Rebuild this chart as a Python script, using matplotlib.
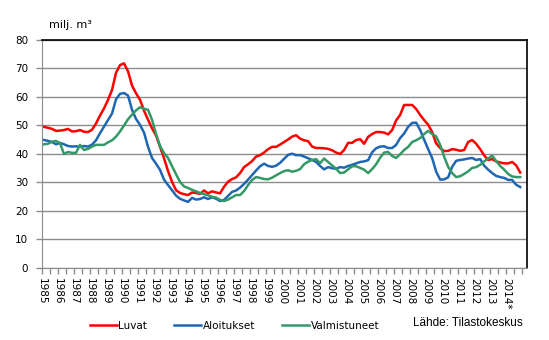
import matplotlib
matplotlib.use("Agg")
import matplotlib.pyplot as plt
import numpy as np

# quarterly values 1985Q1 .. 2014Q4, milj. m3
luvat = [49.5, 49.2, 48.8, 48.1, 48.2, 48.4, 48.8, 47.9, 48.0, 48.4,
         47.8, 47.7, 48.5, 50.7, 53.5, 56.0, 59.0, 62.5, 68.5, 71.2,
         71.8, 69.0, 64.0, 61.3, 59.0, 55.2, 52.0, 49.0, 46.5, 42.5,
         38.5, 34.0, 30.2, 27.3, 26.3, 25.9, 25.6, 26.5, 26.3, 26.0,
         27.2, 26.2, 26.9, 26.5, 26.2, 28.5, 30.3, 31.2, 31.8, 33.3,
         35.4, 36.4, 37.5, 39.1, 39.6, 40.5, 41.7, 42.5, 42.5, 43.3,
         44.2, 45.1, 46.1, 46.6, 45.4, 44.8, 44.5, 42.6, 42.1, 42.1,
         42.0, 41.8, 41.3, 40.5, 40.0, 41.4, 43.9, 43.9, 44.9, 45.2,
         43.6, 46.0, 47.0, 47.7, 47.7, 47.5, 46.9, 48.4, 51.8, 53.7,
         57.2, 57.2, 57.2, 55.8, 53.7, 51.9, 50.3, 47.7, 43.7, 42.1,
         41.0, 41.1, 41.7, 41.5, 41.1, 41.4, 44.2, 44.9, 43.6, 41.7,
         39.5, 37.9, 38.2, 37.4, 37.0, 36.7, 36.7, 37.2, 36.0, 33.5]

aloitukset = [44.9, 44.6, 44.2, 43.4, 43.9, 43.4, 42.8, 42.6, 42.7, 42.5,
              42.8, 42.6, 43.3, 44.8, 47.3, 49.6, 51.9, 54.2, 59.2, 61.1,
              61.4, 60.5, 55.5, 52.3, 50.2, 47.5, 42.5, 38.6, 36.6, 34.4,
              31.0, 29.1, 27.3, 25.4, 24.3, 23.7, 23.2, 24.6, 24.0, 24.2,
              24.8, 24.2, 24.8, 24.3, 23.5, 23.9, 25.3, 26.7, 27.2, 28.2,
              29.5, 31.0, 32.6, 34.2, 35.7, 36.6, 35.8, 35.5, 35.9, 36.9,
              38.3, 39.7, 40.1, 39.6, 39.6, 39.1, 38.5, 37.9, 37.2, 35.8,
              34.6, 35.4, 35.0, 34.8, 35.4, 35.2, 35.8, 36.2, 36.7, 37.2,
              37.4, 37.8, 40.6, 42.0, 42.6, 42.7, 42.1, 42.1, 43.2, 45.6,
              47.2, 49.5, 50.9, 51.0, 48.4, 45.0, 41.7, 38.6, 33.8, 31.0,
              31.1, 31.8, 35.5, 37.6, 37.9, 38.1, 38.4, 38.6, 37.9, 38.2,
              35.9, 34.5, 33.3, 32.3, 31.9, 31.6, 30.9, 30.9, 29.2, 28.4]

valmistuneet = [43.4, 43.6, 44.3, 44.6, 43.8, 40.0, 40.7, 40.4, 40.4, 43.2,
                41.4, 41.8, 42.6, 43.2, 43.2, 43.2, 44.1, 44.8, 46.1, 47.9,
                50.0, 52.2, 53.8, 55.3, 56.4, 55.9, 55.5, 52.0, 47.0, 42.8,
                40.3, 38.6, 35.7, 32.9, 30.2, 28.6, 28.1, 27.4, 26.9, 26.3,
                25.9, 25.5, 25.0, 24.7, 23.9, 23.5, 24.0, 24.8, 25.6, 25.6,
                27.0, 29.1, 30.9, 31.9, 31.6, 31.2, 31.1, 31.7, 32.5, 33.3,
                34.0, 34.3, 33.8, 34.1, 34.7, 36.4, 37.3, 37.9, 38.2, 36.8,
                38.4, 37.2, 36.0, 34.8, 33.3, 33.5, 34.6, 35.7, 35.7, 35.1,
                34.5, 33.3, 34.7, 36.4, 38.7, 40.5, 40.7, 39.3, 38.6, 39.9,
                41.4, 42.5, 44.2, 44.8, 45.6, 47.0, 48.1, 47.0, 46.2, 43.2,
                39.0, 35.5, 33.3, 31.9, 32.2, 33.0, 33.9, 35.1, 35.4, 36.2,
                37.4, 38.4, 39.4, 37.5, 35.8, 34.5, 33.0, 32.1, 31.9, 31.9]

years = list(range(1985, 2015))
year_labels = [str(y) for y in years[:-1]] + ["2014*"]

x = 1985.125 + np.arange(len(luvat)) / 4.0

fig = plt.figure(figsize=(5.49, 3.4), dpi=100)
ax = fig.add_axes([0.0765, 0.2118, 0.8834, 0.6706])

ax.plot(x, luvat, color="#ff0000", lw=1.8, label="Luvat")
ax.plot(x, aloitukset, color="#1f66b3", lw=1.8, label="Aloitukset")
ax.plot(x, valmistuneet, color="#339966", lw=1.8, label="Valmistuneet")

ax.set_ylim(0, 80)
ax.set_xlim(1985, 2015.3)
ax.set_yticks(range(0, 81, 10))
ax.yaxis.grid(True, color="#8c8c8c", lw=1)
ax.set_axisbelow(True)

halfyears = np.arange(1985, 2015.01, 0.5)
ax.set_xticks(halfyears)
ax.set_xticklabels([""] * len(halfyears))
for yr, lab in zip(years, year_labels):
    ax.text(yr, -3.5, lab, rotation=270, ha="center", va="top", fontsize=7.5,
            family="DejaVu Sans")

ax.tick_params(axis="x", length=4, color="#8c8c8c", width=1)
ax.tick_params(axis="y", length=4, color="#8c8c8c", width=1, labelsize=7.5, pad=6)

for s in ("left", "bottom"):
    ax.spines[s].set_color("#8c8c8c")
for s in ("top", "right"):
    ax.spines[s].set_color("black")
    ax.spines[s].set_linewidth(1.2)

fig.text(0.09, 0.925, "milj. m³", fontsize=8, va="center")

leg = fig.legend(loc="lower left", bbox_to_anchor=(0.146, 0.0), ncol=3, frameon=False,
                 fontsize=7.5, handlelength=2.6, handletextpad=0.15, columnspacing=2.6)
fig.text(0.952, 0.05, "Lähde: Tilastokeskus", fontsize=8.5, ha="right",
         va="center", family="Liberation Sans")

fig.savefig("out.png", dpi=100)
